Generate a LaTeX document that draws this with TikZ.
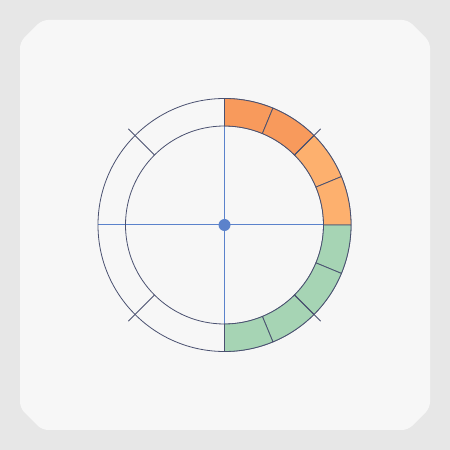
\documentclass[tikz,border=0pt]{standalone}
\begin{document}
\definecolor{bgout}{HTML}{E7E7E7}
\definecolor{panel}{HTML}{F7F7F7}
\definecolor{ringc}{HTML}{4A5170}
\definecolor{orA}{HTML}{F89A5C}
\definecolor{orB}{HTML}{FDB06E}
\definecolor{grA}{HTML}{A6D4B4}
\definecolor{axisc}{HTML}{5B82CB}
\begin{tikzpicture}[x=1pt,y=1pt,
  seg/.style={draw=ringc,line width=0.8pt},
  ringline/.style={draw=ringc,line width=0.8pt},
  tickline/.style={draw=ringc,line width=0.9pt},
  axisline/.style={draw=axisc,line width=1pt}]
\useasboundingbox (0,0) rectangle (450,450);
\fill[bgout] (0,0) rectangle (450,450);
\fill[panel,rounded corners=6pt] (20,42) -- (20,408) -- (42,430) -- (408,430) -- (430,408) -- (430,42) -- (408,20) -- (42,20) -- cycle;
\begin{scope}[shift={(224.5,225)}]
  \def\ri{99}
  \def\ro{126.5}
  \coordinate (c) at (0,0);
  \coordinate (l) at (180:\ro);
  \coordinate (r) at (0:\ro);
  \coordinate (t) at (90:\ro);
  \coordinate (b) at (270:\ro);
  \draw[axisline] (l) -- (r);
  \draw[axisline] (t) -- (b);
  \draw[ringline] (c) circle[radius=\ro];
  \draw[ringline] (c) circle[radius=\ri];
  \foreach \a/\b/\col in {90/67.5/orA,67.5/45/orA,45/22.5/orB,22.5/0/orB,0/-22.5/grA,-22.5/-45/grA,-45/-67.5/grA,-67.5/-90/grA}{
    \filldraw[seg,fill=\col] (\a:\ri) -- (\a:\ro) arc[start angle=\a,end angle=\b,radius=\ro] -- (\b:\ri) arc[start angle=\b,end angle=\a,radius=\ri] -- cycle;
  }
  \foreach \a in {45,135,225,315}{
    \draw[tickline] (\a:\ri) -- (\a:136);
  }
  \node[circle,fill=axisc,inner sep=0pt,minimum size=12pt] (dot) at (c) {};
\end{scope}
\end{tikzpicture}
\end{document}
